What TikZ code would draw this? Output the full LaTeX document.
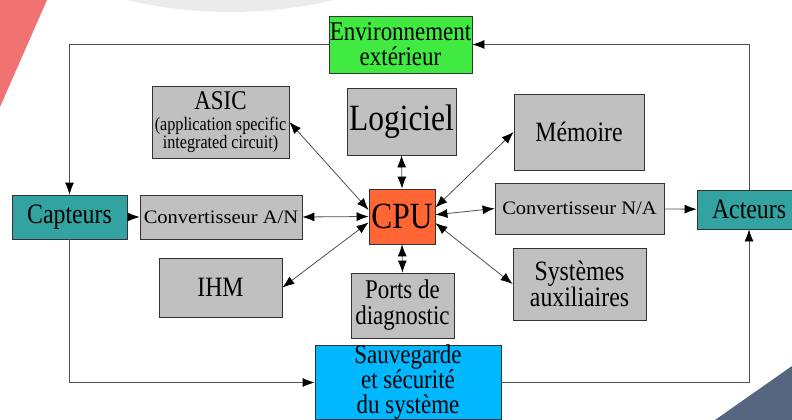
\documentclass[tikz,border=0pt]{standalone}
\usepackage{fontspec}
\setmainfont{Liberation Serif}[FakeStretch=0.85]
\newfontfamily\convfont{Liberation Serif}[FakeStretch=1.08]
\usetikzlibrary{arrows.meta}

\definecolor{vert}{RGB}{64,234,64}
\definecolor{sarcelle}{RGB}{50,163,160}
\definecolor{orangecpu}{RGB}{255,102,51}
\definecolor{cyansauv}{RGB}{0,184,255}
\definecolor{grisbox}{RGB}{192,192,192}
\definecolor{trait}{RGB}{80,80,80}
\definecolor{saumon}{RGB}{241,114,114}
\definecolor{ardoise}{RGB}{86,102,128}
\definecolor{grisfond}{RGB}{235,235,235}

\newcommand{\fs}[2]{\fontsize{#1}{#2}\selectfont}

\begin{document}
\begin{tikzpicture}[x=1pt,y=-1pt,>={Latex[length=12pt,width=9pt,color=black]}]
  \tikzset{box/.style = {shape=rectangle,draw=black!80,line width=0.8pt,fill=grisbox,inner sep=0pt,align=center,font=\fs{28}{25}}}
  \tikzset{edge/.style = {draw=trait,line width=0.8pt,->}}
  \tikzset{dedge/.style = {draw=trait,line width=0.8pt,<->}}

  \useasboundingbox (0,0) rectangle (792,420);
  % decor
  \fill[grisfond] (230,-436) circle (448pt);
  \fill[saumon] (0,0) -- (47,0) -- (0,107) -- cycle;
  \fill[ardoise] (715,420) -- (792,366) -- (792,420) -- cycle;

	\node[box,fill=vert,minimum width=143pt,minimum height=57pt,font=\fs{27}{25}] (env) at (400.5,44.5) {Environnement\\extérieur};

	\node[box,minimum width=137pt,minimum height=72pt,font=\fs{19}{18}] (asic) at (220.5,122) {{\fs{27}{24}ASIC}\\[3pt](application specific\\integrated circuit)};
	\node[box,minimum width=109pt,minimum height=67pt,font=\fs{37}{37}] (logiciel) at (401.5,121.5) {Logiciel};
	\node[box,minimum width=130pt,minimum height=76pt] (memoire) at (579,132) {Mémoire};

	\node[box,fill=sarcelle,minimum width=115pt,minimum height=44pt] (capteurs) at (69.5,217) {Capteurs};
	\node[box,minimum width=162pt,minimum height=44pt,font=\convfont\fs{19}{19}] (conva) at (221,217) {Convertisseur A/N};
	\node[box,fill=orangecpu,minimum width=66pt,minimum height=55pt,font=\fs{37}{37}] (cpu) at (402,216.5) {CPU};
	\node[box,minimum width=169pt,minimum height=51pt,font=\convfont\fs{19}{19}] (convn) at (579.5,208.5) {Convertisseur N/A};
	\node[box,fill=sarcelle,minimum width=104pt,minimum height=39pt] (acteurs) at (749,209.5) {Acteurs};

	\node[box,minimum width=123pt,minimum height=59pt] (ihm) at (220.5,287.5) {IHM};
	\node[box,minimum width=103pt,minimum height=65pt,font=\fs{27}{26}] (ports) at (402.5,305.5) {Ports de\\diagnostic};
	\node[box,minimum width=133pt,minimum height=72pt] (systemes) at (579.5,284) {Systèmes\\auxiliaires};
	\node[box,fill=cyansauv,minimum width=186pt,minimum height=73pt,font=\fs{27}{25}] (sauv) at (408,382.5) {Sauvegarde\\et sécurité\\du système};

  % boucle exterieure
  \draw[edge] (env.west) -| (capteurs.north);
  \draw[edge] (acteurs.north) |- (env.east);
  \draw[edge] (capteurs.south) |- (sauv.west);
  \draw[edge] (sauv.east) -| (acteurs.south);
  \draw[edge] (capteurs) -- (conva);
  \draw[edge] (convn) -- (acteurs);

    \foreach \from/\to in {conva.east/cpu.west,asic.east/cpu.169,ihm.east/cpu.190,logiciel.south/cpu.north,ports.north/cpu.south,memoire.west/cpu.15,convn.west/cpu.3,systemes.west/cpu.-11}
    \draw[dedge] (\from) -- (\to);

\end{tikzpicture}
\end{document}
